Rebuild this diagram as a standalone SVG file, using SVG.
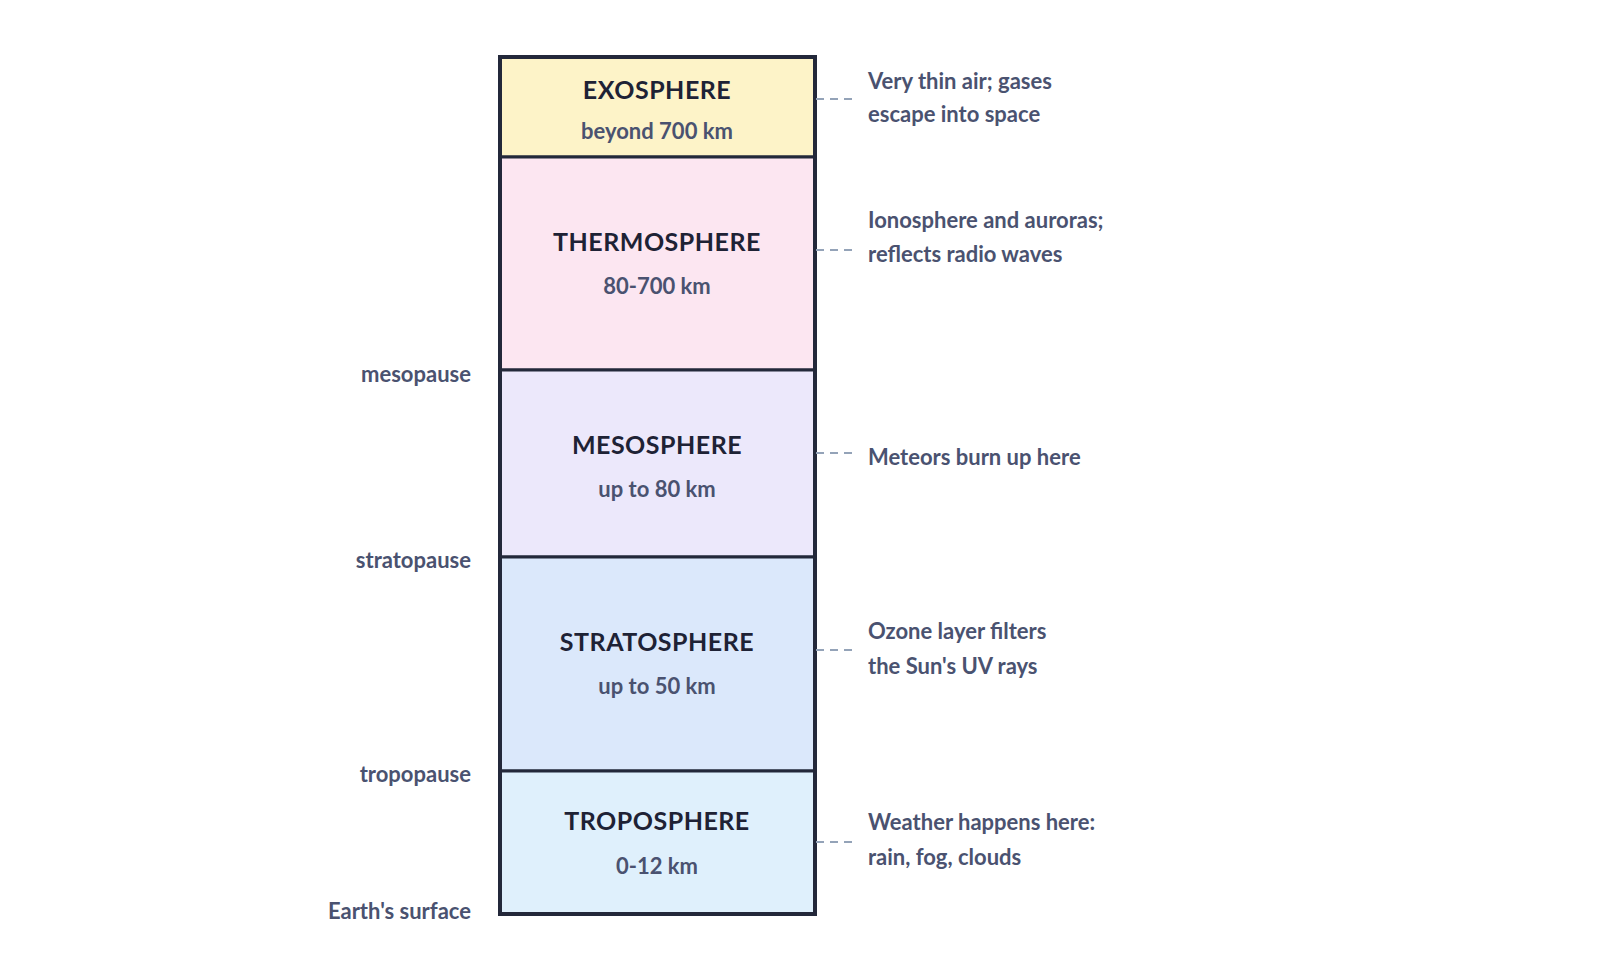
<svg xmlns="http://www.w3.org/2000/svg" width="1600" height="971" viewBox="0 0 1600 971">
<style>
.t{font-family:Lato,"Open Sans",sans-serif;font-weight:700;font-size:25px;fill:#1e2235;text-anchor:middle;letter-spacing:0.5px}
.s{font-family:Lato,"Open Sans",sans-serif;font-weight:700;font-size:22px;fill:#4a5270;text-anchor:middle}
.l{font-family:Lato,"Open Sans",sans-serif;font-weight:700;font-size:22px;fill:#4a5270;text-anchor:end}
.n{font-family:Lato,"Open Sans",sans-serif;font-weight:700;font-size:22px;fill:#4a5270}
.d{stroke:#94a3b8;stroke-width:2;stroke-dasharray:8,6;fill:none}
.b{stroke:#23283a;stroke-width:3}
</style>
<rect width="1600" height="971" fill="#fff"/>
<g id="exosphere"><rect class="b" x="500" y="57" width="315" height="100" fill="#fdf3c8"/><text class="t" x="657" y="99">EXOSPHERE</text><text class="s" x="657" y="139">beyond 700 km</text></g>
<g id="thermosphere"><rect class="b" x="500" y="157" width="315" height="213" fill="#fce6f1"/><text class="t" x="657" y="251">THERMOSPHERE</text><text class="s" x="657" y="294">80-700 km</text></g>
<g id="mesosphere"><rect class="b" x="500" y="370" width="315" height="187" fill="#ece8fb"/><text class="t" x="657" y="454">MESOSPHERE</text><text class="s" x="657" y="497">up to 80 km</text></g>
<g id="stratosphere"><rect class="b" x="500" y="557" width="315" height="214" fill="#dbe8fb"/><text class="t" x="657" y="651">STRATOSPHERE</text><text class="s" x="657" y="694">up to 50 km</text></g>
<g id="troposphere"><rect class="b" x="500" y="771" width="315" height="143" fill="#dff0fc"/><text class="t" x="657" y="830">TROPOSPHERE</text><text class="s" x="657" y="874">0-12 km</text></g>
<rect x="500" y="57" width="315" height="857" fill="none" stroke="#23283a" stroke-width="4"/>
<g id="labels">
<text class="l" x="471" y="382">mesopause</text>
<text class="l" x="471" y="568">stratopause</text>
<text class="l" x="471" y="782">tropopause</text>
<text class="l" x="471" y="919">Earth's surface</text>
</g>
<g id="connectors">
<line class="d" x1="816" y1="99" x2="858" y2="99"/>
<line class="d" x1="816" y1="250" x2="858" y2="250"/>
<line class="d" x1="816" y1="453" x2="858" y2="453"/>
<line class="d" x1="816" y1="650" x2="858" y2="650"/>
<line class="d" x1="816" y1="842" x2="858" y2="842"/>
</g>
<g id="notes">
<text class="n" x="868" y="89">Very thin air; gases</text><text class="n" x="868" y="122">escape into space</text>
<text class="n" x="868" y="228">Ionosphere and auroras;</text><text class="n" x="868" y="262">reflects radio waves</text>
<text class="n" x="868" y="465">Meteors burn up here</text>
<text class="n" x="868" y="639">Ozone layer filters</text><text class="n" x="868" y="674">the Sun's UV rays</text>
<text class="n" x="868" y="830">Weather happens here:</text><text class="n" x="868" y="865">rain, fog, clouds</text>
</g>
</svg>
